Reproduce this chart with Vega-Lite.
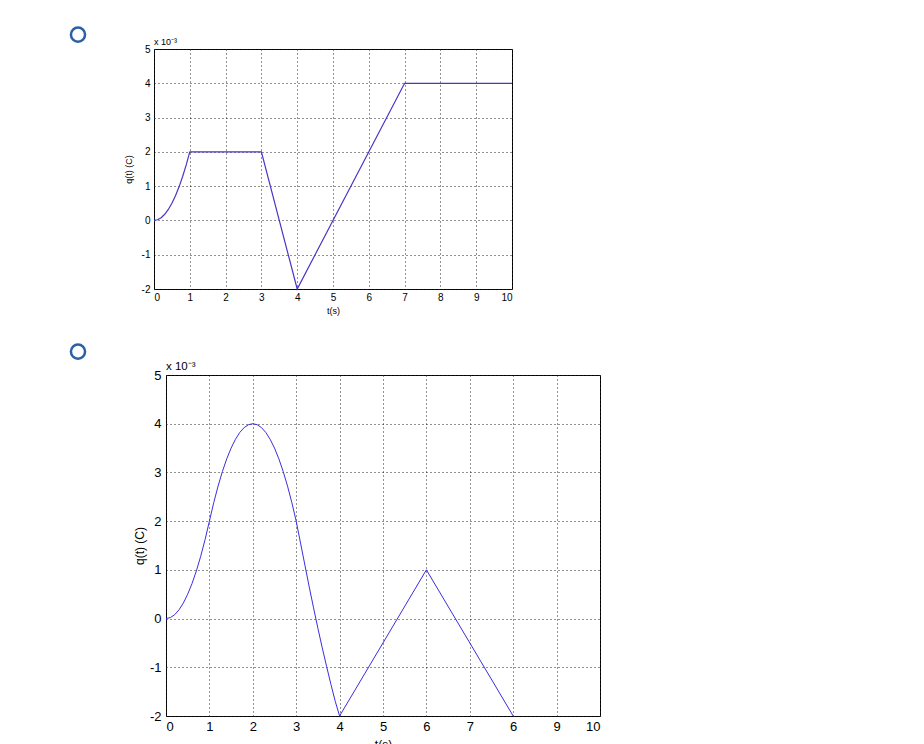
{
  "$schema": "https://vega.github.io/schema/vega-lite/v6.json",
  "padding": {"left": 65, "top": 22, "right": 0, "bottom": 0},
  "spacing": 23,
  "datasets": {
    "option_a": [
      {"t": 0, "q": 0}, {"t": 0.1, "q": 0.02}, {"t": 0.2, "q": 0.08}, {"t": 0.3, "q": 0.18},
      {"t": 0.4, "q": 0.32}, {"t": 0.5, "q": 0.5}, {"t": 0.6, "q": 0.72}, {"t": 0.7, "q": 0.98},
      {"t": 0.8, "q": 1.28}, {"t": 0.9, "q": 1.62}, {"t": 1, "q": 2},
      {"t": 3, "q": 2}, {"t": 4, "q": -2}, {"t": 7, "q": 4}, {"t": 10, "q": 4}
    ],
    "option_b": [
      {"t": 0, "q": 0}, {"t": 0.1, "q": 0.02}, {"t": 0.2, "q": 0.08}, {"t": 0.3, "q": 0.18},
      {"t": 0.4, "q": 0.32}, {"t": 0.5, "q": 0.5}, {"t": 0.6, "q": 0.72}, {"t": 0.7, "q": 0.98},
      {"t": 0.8, "q": 1.28}, {"t": 0.9, "q": 1.62}, {"t": 1, "q": 2},
      {"t": 1.1, "q": 2.38}, {"t": 1.2, "q": 2.72}, {"t": 1.3, "q": 3.02}, {"t": 1.4, "q": 3.28},
      {"t": 1.5, "q": 3.5}, {"t": 1.6, "q": 3.68}, {"t": 1.7, "q": 3.82}, {"t": 1.8, "q": 3.92},
      {"t": 1.9, "q": 3.98}, {"t": 2, "q": 4}, {"t": 2.1, "q": 3.98}, {"t": 2.2, "q": 3.92},
      {"t": 2.3, "q": 3.82}, {"t": 2.4, "q": 3.68}, {"t": 2.5, "q": 3.5}, {"t": 2.6, "q": 3.28},
      {"t": 2.7, "q": 3.02}, {"t": 2.8, "q": 2.72}, {"t": 2.9, "q": 2.38}, {"t": 3, "q": 2},
      {"t": 3.1, "q": 1.55}, {"t": 3.2, "q": 1.1}, {"t": 3.3, "q": 0.65}, {"t": 3.4, "q": 0.22},
      {"t": 3.5, "q": -0.2}, {"t": 3.6, "q": -0.6}, {"t": 3.7, "q": -0.98}, {"t": 3.8, "q": -1.35},
      {"t": 3.9, "q": -1.7}, {"t": 4, "q": -2}, {"t": 6, "q": 1}, {"t": 8, "q": -2}
    ]
  },
  "vconcat": [
    {
      "spacing": 32,
      "hconcat": [
        {
          "width": 26,
          "height": 240,
          "view": {"stroke": null},
          "data": {"values": [{"choice": "a"}]},
          "mark": {"type": "point", "shape": "circle", "filled": false, "size": 200, "strokeWidth": 2.5, "color": "#2a61a6", "opacity": 1},
          "encoding": {
            "y": {"datum": 5.42, "type": "quantitative", "scale": {"domain": [-2, 5], "nice": false, "zero": false}, "axis": null}
          }
        },
        {
          "width": 358,
          "height": 240,
          "layer": [
            {
              "data": {"name": "option_a"},
              "mark": {"type": "line", "color": "#4b34c6", "strokeWidth": 1.2},
              "encoding": {
                "x": {
                  "field": "t", "type": "quantitative",
                  "scale": {"domain": [0, 10], "nice": false},
                  "axis": {"labelFontSize": 10, "labelPadding": 3, "title": "t(s)", "titleFontSize": 9, "titlePadding": 4}
                },
                "y": {
                  "field": "q", "type": "quantitative",
                  "scale": {"domain": [-2, 5], "nice": false, "zero": false},
                  "axis": {"labelFontSize": 10, "labelPadding": 4, "title": "q(t) (C)", "titleFontSize": 9, "titlePadding": 8}
                }
              }
            },
            {
              "data": {"values": [{"note": "x 10⁻³"}]},
              "mark": {"type": "text", "align": "left", "baseline": "alphabetic", "dy": -4, "fontSize": 9, "color": "#000000"},
              "encoding": {
                "x": {"datum": 0, "type": "quantitative", "title": null},
                "y": {"datum": 5, "type": "quantitative", "title": null},
                "text": {"field": "note"}
              }
            }
          ]
        }
      ]
    },
    {
      "spacing": 41,
      "hconcat": [
        {
          "width": 26,
          "height": 341,
          "view": {"stroke": null},
          "data": {"values": [{"choice": "b"}]},
          "mark": {"type": "point", "shape": "circle", "filled": false, "size": 200, "strokeWidth": 2.5, "color": "#2a61a6", "opacity": 1},
          "encoding": {
            "y": {"datum": 5.48, "type": "quantitative", "scale": {"domain": [-2, 5], "nice": false, "zero": false}, "axis": null}
          }
        },
        {
          "width": 434,
          "height": 341,
          "layer": [
            {
              "data": {"name": "option_b"},
              "mark": {"type": "line", "color": "#3b2ee0", "strokeWidth": 1},
              "encoding": {
                "x": {
                  "field": "t", "type": "quantitative",
                  "scale": {"domain": [0, 10], "nice": false},
                  "axis": {"labelExpr": "datum.value === 8 ? '6' : '' + datum.value", "labelFontSize": 13, "labelPadding": 4, "title": "t(s)", "titleFontSize": 12, "titlePadding": 6}
                },
                "y": {
                  "field": "q", "type": "quantitative",
                  "scale": {"domain": [-2, 5], "nice": false, "zero": false},
                  "axis": {"labelFontSize": 13, "labelPadding": 5, "title": "q(t) (C)", "titleFontSize": 12, "titlePadding": 3}
                }
              }
            },
            {
              "data": {"values": [{"note": "x 10⁻³"}]},
              "mark": {"type": "text", "align": "left", "baseline": "alphabetic", "dy": -5.5, "fontSize": 11.5, "color": "#000000"},
              "encoding": {
                "x": {"datum": 0, "type": "quantitative", "title": null},
                "y": {"datum": 5, "type": "quantitative", "title": null},
                "text": {"field": "note"}
              }
            }
          ]
        }
      ]
    }
  ],
  "config": {
    "font": "Liberation Sans",
    "view": {"stroke": "#000000", "strokeWidth": 1},
    "axis": {
      "grid": true, "gridColor": "#222222", "gridDash": [1, 3], "gridOpacity": 1, "gridWidth": 1,
      "domain": false, "ticks": false, "labelOverlap": false, "labelBound": false,
      "labelColor": "#000000", "titleColor": "#000000", "titleFontWeight": "normal",
      "labelFont": "Liberation Sans", "titleFont": "Liberation Sans"
    },
    "axisX": {"tickCount": 11, "labelExpr": "'' + datum.value"},
    "axisY": {"tickCount": 8, "labelExpr": "'' + datum.value"}
  }
}
